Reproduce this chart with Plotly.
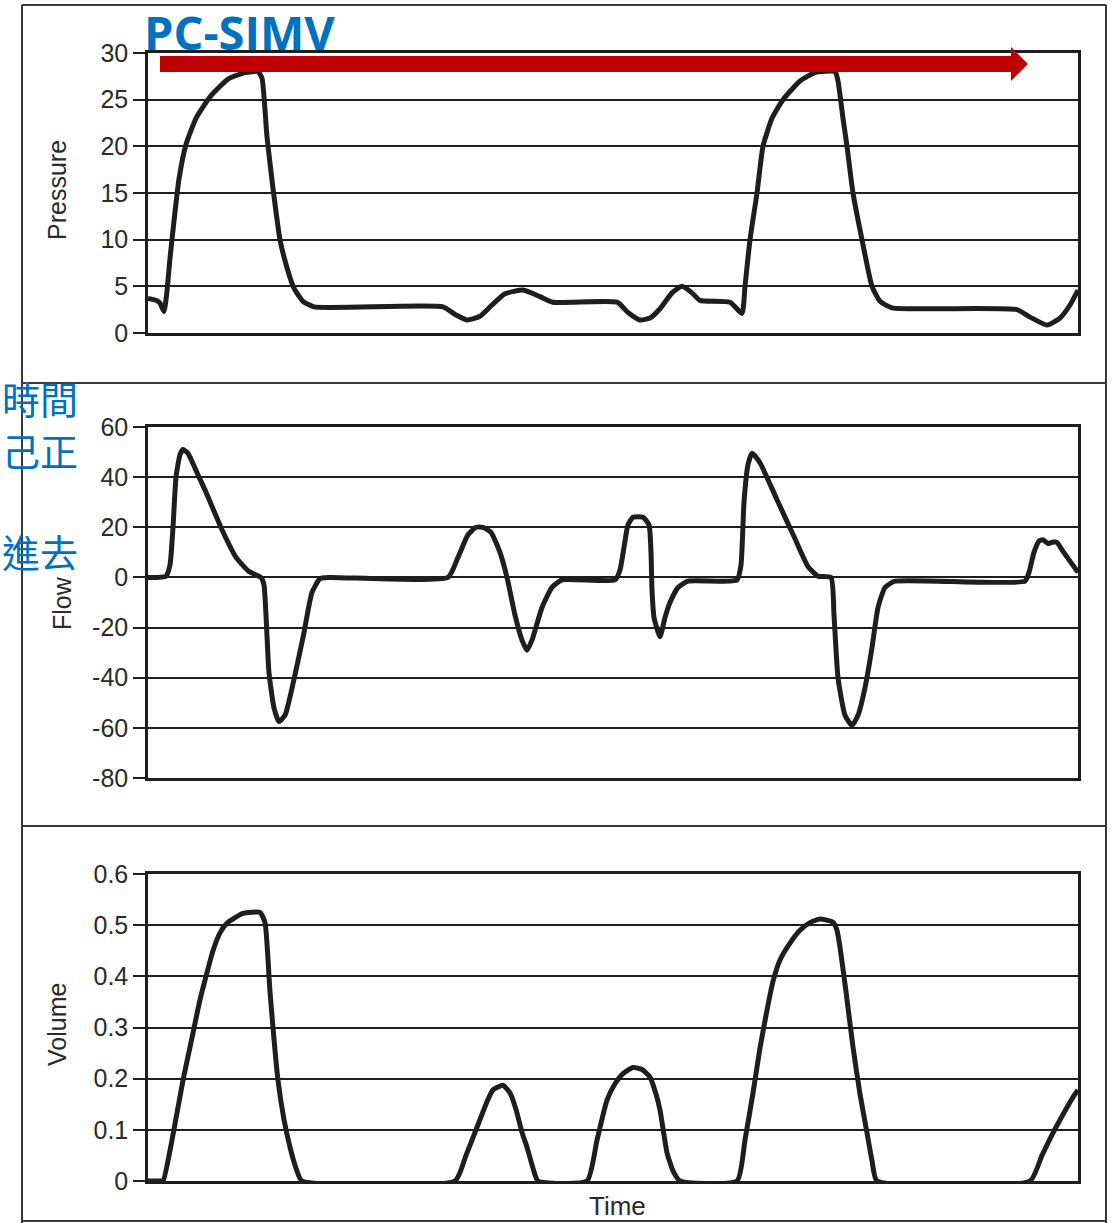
import plotly.graph_objects as go

W, H = 1112, 1223

# ---------------- data ----------------
time_p = [0.00, 0.08, 0.12, 0.16, 0.19, 0.22, 0.26, 0.31, 0.38, 0.48, 0.62, 0.80, 0.97, 1.10,
          1.14, 1.19, 1.25, 1.32, 1.39, 1.46, 1.55, 1.66, 2.95, 3.07, 3.19, 3.32, 3.44, 3.57,
          3.75, 3.92, 4.05, 4.69, 4.80, 4.92, 5.02, 5.12, 5.24, 5.34, 5.44, 5.52, 5.82, 5.94,
          5.97, 6.02, 6.09, 6.15, 6.24, 6.35, 6.52, 6.67, 6.87, 6.90, 6.95, 6.99, 7.05, 7.14,
          7.24, 7.32, 7.44, 8.69, 8.82, 8.99, 9.12, 9.22, 9.30]
pressure = [3.7, 3.5, 3.2, 2.3, 4.5, 8, 12, 16.5, 20.2, 23, 25.3, 27.2, 27.9, 28,
            27.3, 21, 15.5, 10, 7, 4.8, 3.4, 2.8, 2.8, 2.0, 1.4, 1.8, 3.0, 4.2,
            4.6, 3.9, 3.3, 3.3, 2.2, 1.4, 1.6, 2.6, 4.3, 5.0, 4.3, 3.5, 3.3, 2.1,
            5, 10, 15, 20, 23, 25, 27, 27.9, 28, 27, 23, 20, 15, 10,
            5, 3.4, 2.7, 2.5, 1.7, 0.85, 1.6, 3.0, 4.6]

time_f = [0.00, 0.18, 0.22, 0.25, 0.28, 0.32, 0.35, 0.40, 0.51, 0.58, 0.74, 0.88, 1.01, 1.13,
          1.16, 1.18, 1.21, 1.26, 1.31, 1.37, 1.43, 1.55, 1.64, 1.72, 1.82, 3.00, 3.10, 3.20,
          3.28, 3.35, 3.43, 3.52, 3.59, 3.67, 3.74, 3.79, 3.84, 3.94, 4.04, 4.14, 4.67, 4.72,
          4.76, 4.80, 4.85, 4.95, 5.01, 5.03, 5.04, 5.06, 5.12, 5.17, 5.22, 5.30, 5.40, 5.89,
          5.93, 5.96, 6.00, 6.04, 6.08, 6.13, 6.29, 6.46, 6.60, 6.70, 6.83, 6.86, 6.90, 6.97,
          7.04, 7.10, 7.17, 7.24, 7.30, 7.37, 7.47, 8.77, 8.81, 8.86, 8.91, 8.95, 9.00, 9.04,
          9.09, 9.14, 9.21, 9.30]
flow = [0, 0.5, 5, 20, 40, 49, 51, 49.5, 40, 34, 19, 8, 2.4, 0,
        -3, -15, -38, -52, -57.5, -55, -46, -24, -6, -0.5, 0, 0, 8, 17,
        20, 20, 18, 10, 0, -15, -25, -29, -25, -12, -4, -1, -1, 3,
        12, 21, 24, 24, 21, 10, -5, -16, -23.7, -16, -10, -4, -1.5, -1,
        5, 30, 45, 49.5, 48, 45, 31, 16.3, 4.3, 0.5, 0, -15, -40, -55,
        -59, -55, -44, -28, -12, -4, -1.5, -1.5, 2, 10, 14.5, 15, 13.5, 14,
        14, 11, 7, 2]

time_v = [0.00, 0.12, 0.15, 0.24, 0.35, 0.44, 0.52, 0.65, 0.72, 0.79, 0.95, 1.12, 1.17, 1.22,
          1.30, 1.36, 1.42, 1.48, 1.54, 3.07, 3.18, 3.29, 3.39, 3.45, 3.55, 3.62, 3.68, 3.74,
          3.79, 3.85, 3.90, 4.39, 4.49, 4.59, 4.67, 4.75, 4.85, 4.94, 5.02, 5.08, 5.12, 5.16,
          5.19, 5.25, 5.32, 5.89, 5.97, 6.05, 6.12, 6.19, 6.25, 6.32, 6.42, 6.52, 6.62, 6.72,
          6.85, 6.89, 6.92, 6.98, 7.05, 7.12, 7.19, 7.24, 7.29, 8.82, 8.94, 9.05, 9.15, 9.25, 9.30]
volume = [0, 0, 0, 0.08, 0.197, 0.28, 0.354, 0.45, 0.485, 0.504, 0.523, 0.525, 0.505, 0.37,
          0.197, 0.12, 0.066, 0.025, 0, 0, 0.05, 0.105, 0.155, 0.178, 0.187, 0.172, 0.14, 0.095,
          0.066, 0.025, 0, 0, 0.08, 0.158, 0.19, 0.21, 0.222, 0.218, 0.203, 0.17, 0.139, 0.09,
          0.055, 0.02, 0, 0, 0.08, 0.172, 0.26, 0.334, 0.39, 0.432, 0.465, 0.49, 0.505, 0.512,
          0.506, 0.49, 0.457, 0.37, 0.262, 0.17, 0.094, 0.04, 0, 0, 0.05, 0.094, 0.13, 0.164, 0.178]

p_ticks = [0, 5, 10, 15, 20, 25, 30]
p_labels = ["0", "5", "10", "15", "20", "25", "30"]
f_ticks = [-80, -60, -40, -20, 0, 20, 40, 60]
f_labels = ["-80", "-60", "-40", "-20", "0", "20", "40", "60"]
v_ticks = [0, 0.1, 0.2, 0.3, 0.4, 0.5, 0.6]
v_labels = ["0", "0.1", "0.2", "0.3", "0.4", "0.5", "0.6"]

title_text = "PC-SIMV"
side_notes = ["時間", "己正", "進去"]
axis_titles = ["Pressure", "Flow", "Volume"]
x_title = "Time"

# ---------------- layout helpers ----------------
def fx(px):
    return px / W

def fy(py):
    return 1 - py / H

INK = "#1e1e1e"
FONT = "Liberation Sans, Arial, sans-serif"

fig = go.Figure()
line_style = dict(color=INK, width=5, shape="spline", smoothing=0.5)
fig.add_trace(go.Scatter(x=time_p, y=pressure, mode="lines", line=line_style, xaxis="x", yaxis="y"))
fig.add_trace(go.Scatter(x=time_f, y=flow, mode="lines", line=line_style, xaxis="x2", yaxis="y2"))
fig.add_trace(go.Scatter(x=time_v, y=volume, mode="lines", line=line_style, xaxis="x3", yaxis="y3"))

xdom = [fx(148), fx(1078)]

def xax(anchor):
    return dict(domain=xdom, anchor=anchor, range=[0, 9.30], showline=True, linecolor=INK,
                linewidth=2.5, mirror=True, showticklabels=False, ticks="", showgrid=False,
                zeroline=False, fixedrange=True, automargin=False)

def yax(anchor, dom, rng, tv, tt):
    return dict(domain=dom, anchor=anchor, range=rng, tickvals=tv, ticktext=tt,
                ticks="outside", ticklen=12, tickwidth=2, tickcolor=INK,
                showline=True, linecolor=INK, linewidth=2.5, mirror=True,
                showgrid=True, gridcolor=INK, gridwidth=2, zeroline=False, automargin=False,
                tickfont=dict(family=FONT, size=25, color="#2a2a2a"), fixedrange=True)

annotations = []
for txt, x, y in zip(axis_titles, [57, 62, 57], [190, 603, 1025]):
    annotations.append(dict(text=txt, x=fx(x), y=fy(y), xref="paper", yref="paper",
                            xanchor="center", yanchor="middle",
                            textangle=-90, showarrow=False,
                            font=dict(family=FONT, size=25, color="#2a2a2a")))
annotations.append(dict(text=x_title, x=fx(617), y=fy(1206), xref="paper", yref="paper",
                        xanchor="center", yanchor="middle",
                        showarrow=False, font=dict(family=FONT, size=26, color="#2a2a2a")))
annotations.append(dict(text="<b>" + title_text + "</b>", x=fx(239), y=fy(32), xref="paper",
                        yref="paper", xanchor="center", yanchor="middle", showarrow=False,
                        font=dict(family="Open Sans, sans-serif", size=47, color="#0070C0")))
for txt, y in zip(side_notes, [398, 449, 551]):
    annotations.append(dict(text=txt, x=0, y=fy(y), xref="paper", yref="paper", xanchor="left",
                            yanchor="middle", showarrow=False,
                            font=dict(family="Noto Sans CJK TC", size=38, color="#0070C0")))

shapes = []
frame = dict(color="#3a3a3a", width=2)
for (x0, y0, x1, y1) in [(22, 5, 1106, 5), (22, 383, 1106, 383), (22, 826, 1106, 826),
                         (22, 1221, 1106, 1221), (22, 5, 22, 1223), (1106, 5, 1106, 1223)]:
    shapes.append(dict(type="line", xref="paper", yref="paper", x0=fx(x0), y0=fy(y0),
                       x1=fx(x1), y1=fy(y1), line=frame, layer="below"))
# red arrow
shapes.append(dict(type="rect", xref="paper", yref="paper", x0=fx(160), x1=fx(1012),
                   y0=fy(72), y1=fy(56), fillcolor="#C00000", line=dict(width=0)))
shapes.append(dict(type="path", xref="paper", yref="paper",
                   path=f"M {fx(1011)},{fy(47)} L {fx(1028)},{fy(64)} L {fx(1011)},{fy(81)} Z",
                   fillcolor="#C00000", line=dict(width=0)))

fig.update_layout(
    width=W, height=H, autosize=False,
    margin=dict(l=0, r=0, t=0, b=0, pad=0, autoexpand=False),
    paper_bgcolor="white", plot_bgcolor="white",
    showlegend=False,
    xaxis=xax("y"), xaxis2=xax("y2"), xaxis3=xax("y3"),
    yaxis=yax("x", [fy(333), fy(53)], [0, 30], p_ticks, p_labels),
    yaxis2=yax("x2", [fy(778), fy(427)], [-80, 60], f_ticks, f_labels),
    yaxis3=yax("x3", [fy(1181), fy(874)], [0, 0.6], v_ticks, v_labels),
    annotations=annotations, shapes=shapes,
)

fig.write_html("out.html")
